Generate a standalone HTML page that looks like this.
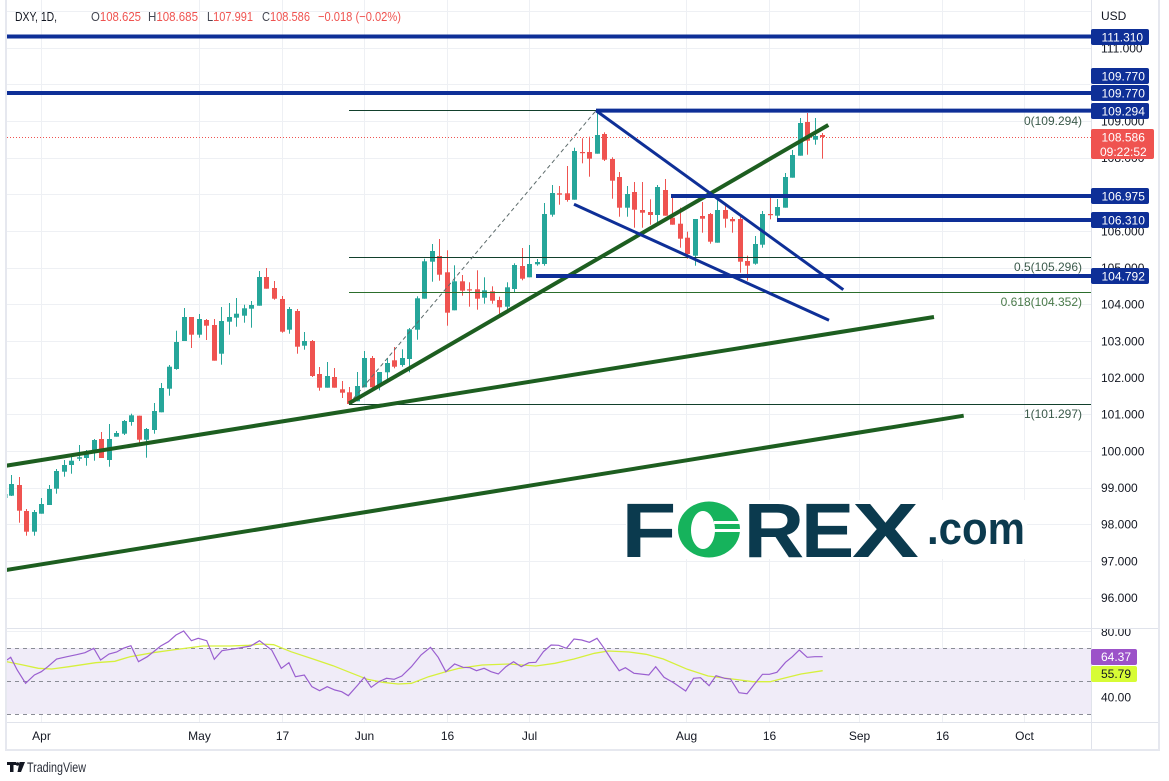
<!DOCTYPE html>
<html><head><meta charset="utf-8">
<style>
html,body{margin:0;padding:0;background:#fff;width:1169px;height:781px;overflow:hidden;}
svg{display:block;}
text{font-family:"Liberation Sans",sans-serif;}
</style></head>
<body>
<svg width="1169" height="781" viewBox="0 0 1169 781" xmlns="http://www.w3.org/2000/svg">
<defs>
<clipPath id="cp"><rect x="7" y="0" width="1084" height="628"/></clipPath>
<clipPath id="cr"><rect x="7" y="629" width="1084" height="93"/></clipPath>
<clipPath id="ca"><rect x="1092" y="629" width="66" height="93"/></clipPath>
</defs>
<rect width="1169" height="781" fill="#fff"/>

<!-- grid price pane -->
<g stroke="#eef0f4" stroke-width="1">
<line x1="7" y1="11.5" x2="1091" y2="11.5"/>
<line x1="7" y1="48.5" x2="1091" y2="48.5"/>
<line x1="7" y1="84.5" x2="1091" y2="84.5"/>
<line x1="7" y1="121.5" x2="1091" y2="121.5"/>
<line x1="7" y1="158.5" x2="1091" y2="158.5"/>
<line x1="7" y1="194.5" x2="1091" y2="194.5"/>
<line x1="7" y1="231.5" x2="1091" y2="231.5"/>
<line x1="7" y1="268.5" x2="1091" y2="268.5"/>
<line x1="7" y1="304.5" x2="1091" y2="304.5"/>
<line x1="7" y1="341.5" x2="1091" y2="341.5"/>
<line x1="7" y1="378.5" x2="1091" y2="378.5"/>
<line x1="7" y1="414.5" x2="1091" y2="414.5"/>
<line x1="7" y1="451.5" x2="1091" y2="451.5"/>
<line x1="7" y1="488.5" x2="1091" y2="488.5"/>
<line x1="7" y1="524.5" x2="1091" y2="524.5"/>
<line x1="7" y1="561.5" x2="1091" y2="561.5"/>
<line x1="7" y1="598.5" x2="1091" y2="598.5"/>
<!-- rsi grid -->
<line x1="7" y1="631.5" x2="1091" y2="631.5"/>
<line x1="7" y1="664.5" x2="1091" y2="664.5"/>
<line x1="7" y1="697.5" x2="1091" y2="697.5"/>
<!-- vertical -->
<line x1="41.5" y1="0" x2="41.5" y2="722"/>
<line x1="199.5" y1="0" x2="199.5" y2="722"/>
<line x1="282.5" y1="0" x2="282.5" y2="722"/>
<line x1="364.5" y1="0" x2="364.5" y2="722"/>
<line x1="447.5" y1="0" x2="447.5" y2="722"/>
<line x1="529.5" y1="0" x2="529.5" y2="722"/>
<line x1="686.5" y1="0" x2="686.5" y2="722"/>
<line x1="769.5" y1="0" x2="769.5" y2="722"/>
<line x1="859.5" y1="0" x2="859.5" y2="722"/>
<line x1="942.5" y1="0" x2="942.5" y2="722"/>
<line x1="1024.5" y1="0" x2="1024.5" y2="722"/>
</g>

<!-- FOREX logo background + logo -->
<rect x="626" y="500" width="401" height="59" fill="#fff"/>
<g fill="#0b3a4e" font-weight="bold">
<text x="621.4" y="557" font-size="77" textLength="55" lengthAdjust="spacingAndGlyphs">F</text>
<text x="743.7" y="557" font-size="77" textLength="60.6" lengthAdjust="spacingAndGlyphs">R</text>
<text x="801.2" y="557" font-size="77" textLength="53" lengthAdjust="spacingAndGlyphs">E</text>
<text x="852" y="557" font-size="77" textLength="66.8" lengthAdjust="spacingAndGlyphs">X</text>
<text x="927" y="544" font-size="45" textLength="98" lengthAdjust="spacingAndGlyphs">.com</text>
</g>
<path d="M709,501.5 a31,28 0 1,0 0.01,0 Z M703,511 a12,19 0 1,1 -0.01,0 Z" fill="#16b35c" fill-rule="evenodd"/>
<rect x="714" y="521" width="28" height="3" fill="#fff"/>
<rect x="714" y="529" width="28" height="3" fill="#fff"/>

<!-- RSI band -->
<g clip-path="url(#cr)">
<rect x="7" y="648" width="1084" height="66" fill="#f0ecf8"/>
<g stroke="#8a8d96" stroke-width="1" stroke-dasharray="4,4">
<line x1="7" y1="648.5" x2="1091" y2="648.5"/>
<line x1="7" y1="681.5" x2="1091" y2="681.5"/>
<line x1="7" y1="714.5" x2="1091" y2="714.5"/>
</g>
<polyline fill="none" stroke="#d6f03c" stroke-width="1.3" points="6.9,661.7 23,665 38.3,668.3 51.7,669 68.9,666.7 95.7,662.7 114.8,661.3 130.1,656.7 153,652.7 172.2,650 202.8,646 229.6,646 248.8,645.3 260.2,644 273.6,644.7 290.9,651.7 313.8,659.3 333,665.7 352.1,673.3 367.4,679.3 382.7,682.3 398,684 411.4,683.3 428.6,676.7 445.8,671.7 459.2,668.3 482.2,665 509,664 535.8,666 554.9,663.3 574,659 594.4,653.3 608.2,651 628.9,652 646.1,654.3 663.3,659 687.4,669.3 708.1,676 732.2,679 752.8,681.7 770.1,681.7 783.8,678.3 801,674 822.7,670.7"/>
<polyline fill="none" stroke="#9a5fd0" stroke-width="1.2" points="6.9,660 10.7,657.3 17.2,670 25.6,683.3 34.4,675 41.3,671.7 47.8,666.7 56.6,659 67,656.7 76.5,654.7 85,652.7 93.8,648.3 100.6,660 109,654 116.7,652 123.2,648.3 130.9,645.7 138.5,661.7 147.3,656.7 160.7,646 168.4,641.7 176,635 183.7,631 191.4,640.7 198.2,638.3 206.7,640.7 214.3,659.3 222,650.7 237.3,648.3 250.7,646 259.5,640.7 271.7,650 281.3,668.3 288.9,662.7 295.4,676.7 304.3,675 311.9,686.7 319.6,690.7 327.2,686.7 334.9,690 341.7,691.7 348.3,695.7 357.8,685 364.3,677.3 371.2,687.3 378.9,681.7 386.5,678.3 394.2,679.3 401.8,676 411.4,666.7 421,655 430.5,647.3 438.2,657.3 445.8,671.7 454.6,664 463.1,667.3 470,667.7 476.5,670.7 484.1,668.3 491,671.7 498.3,674 505.9,666.7 513.6,661.7 521.2,666.7 528.9,662.7 535.8,662.3 543.4,651.7 551.1,645 558.7,645.3 566.4,648.3 574,639 581.7,640 589.4,642.3 597,638.3 603,646.7 611.7,660 619.2,670.7 625.4,667.7 634,673.3 648.8,675 655.7,666.7 664,677.3 673.6,682.7 685.7,691 693.6,678.3 700.5,677.7 709.1,685.7 716,675.7 724.6,678.3 730.5,679 739.1,692.7 747,693.7 754.6,684 762.5,674.3 769.4,674.3 776.9,672.3 785.5,662.3 792.4,656.7 799.3,650 807.2,657.3 814.8,656.7 822.7,656.7"/>
</g>

<g clip-path="url(#cp)">
<!-- current price dotted line -->
<line x1="7" y1="137.5" x2="1091" y2="137.5" stroke="#ef5350" stroke-width="1" stroke-dasharray="1,2"/>

<!-- candles teal -->
<g fill="#26a69a">
<rect x="6" y="494" width="1.5" height="4"/>
<rect x="11" y="475" width="1" height="21"/><rect x="9" y="484" width="5" height="11.7"/>
<rect x="34" y="510" width="1" height="25.7"/><rect x="32" y="512" width="5" height="19.7"/>
<rect x="41" y="498" width="1" height="15.7"/><rect x="39" y="504" width="5" height="9.7"/>
<rect x="49" y="485" width="1" height="20"/><rect x="47" y="489" width="5" height="16"/>
<rect x="56" y="469" width="1" height="24.7"/><rect x="54" y="471" width="5" height="17.7"/>
<rect x="64" y="460" width="1" height="16.7"/><rect x="62" y="465" width="5" height="6.7"/>
<rect x="71" y="455" width="1" height="18.7"/><rect x="69" y="460.7" width="5" height="4.3"/>
<rect x="79" y="445" width="1" height="16"/><rect x="77" y="457.3" width="5" height="1.4"/>
<rect x="86" y="450" width="1" height="15.7"/><rect x="84" y="454" width="5" height="4"/>
<rect x="94" y="439" width="1" height="21.7"/><rect x="92" y="440" width="5" height="11"/>
<rect x="109" y="424" width="1" height="42.7"/><rect x="107" y="439" width="5" height="21"/>
<rect x="116" y="431" width="1" height="5.7"/><rect x="114" y="433" width="5" height="3.7"/>
<rect x="124" y="420" width="1" height="15"/><rect x="122" y="421" width="5" height="12.7"/>
<rect x="131" y="413.7" width="1" height="12"/><rect x="129" y="415.3" width="5" height="6.7"/>
<rect x="146" y="428" width="1" height="29.7"/><rect x="144" y="429" width="5" height="10.7"/>
<rect x="154" y="403" width="1" height="30.7"/><rect x="152" y="411" width="5" height="19"/>
<rect x="161" y="383" width="1" height="29.3"/><rect x="159" y="388" width="5" height="24.3"/>
<rect x="169" y="365" width="1" height="30.7"/><rect x="167" y="366.7" width="5" height="22"/>
<rect x="176" y="330.7" width="1" height="39"/><rect x="174" y="342" width="5" height="27"/>
<rect x="184" y="308" width="1" height="33"/><rect x="182" y="317" width="5" height="24"/>
<rect x="199" y="314" width="1" height="23.7"/><rect x="197" y="319" width="5" height="15.7"/>
<rect x="221" y="307" width="1" height="57.7"/><rect x="219" y="321" width="5" height="32.7"/>
<rect x="229" y="303" width="1" height="31.7"/><rect x="227" y="317" width="5" height="4.7"/>
<rect x="236" y="298" width="1" height="28.7"/><rect x="234" y="313.7" width="5" height="4"/>
<rect x="244" y="304.7" width="1" height="18"/><rect x="242" y="308.3" width="5" height="7.4"/>
<rect x="251" y="301" width="1" height="26.7"/><rect x="249" y="305" width="5" height="3.7"/>
<rect x="259" y="271" width="1" height="34.7"/><rect x="257" y="277" width="5" height="28.7"/>
<rect x="289" y="307" width="1" height="26.7"/><rect x="287" y="309" width="5" height="20.7"/>
<rect x="304" y="332" width="1" height="17.7"/><rect x="302" y="341" width="5" height="4.7"/>
<rect x="327" y="362" width="1" height="25.7"/><rect x="325" y="376" width="5" height="11.7"/>
<rect x="357" y="372" width="1" height="29.3"/><rect x="355" y="386" width="5" height="15.3"/>
<rect x="364" y="351" width="1" height="36.3"/><rect x="362" y="358" width="5" height="29.3"/>
<rect x="379" y="372" width="1" height="18.3"/><rect x="377" y="372" width="5" height="14.3"/>
<rect x="387" y="358" width="1" height="22.3"/><rect x="385" y="363" width="5" height="9.3"/>
<rect x="402" y="349.3" width="1" height="17.4"/><rect x="400" y="358" width="5" height="7"/>
<rect x="409" y="328" width="1" height="44.3"/><rect x="407" y="329.3" width="5" height="29.7"/>
<rect x="417" y="296.3" width="1" height="43.4"/><rect x="415" y="298.3" width="5" height="31.4"/>
<rect x="424" y="258.7" width="1" height="40"/><rect x="422" y="261.3" width="5" height="37.4"/>
<rect x="432" y="244" width="1" height="37.7"/><rect x="430" y="251" width="5" height="10.7"/>
<rect x="454" y="265.3" width="1" height="45"/><rect x="452" y="281.3" width="5" height="29"/>
<rect x="484" y="277.3" width="1" height="26.4"/><rect x="482" y="290.3" width="5" height="7.4"/>
<rect x="507" y="282.3" width="1" height="27.7"/><rect x="505" y="287.3" width="5" height="19.4"/>
<rect x="514" y="263.3" width="1" height="28.7"/><rect x="512" y="265" width="5" height="24"/>
<rect x="529" y="245" width="1" height="32.3"/><rect x="527" y="264" width="5" height="13.3"/>
<rect x="537" y="259" width="1" height="6.7"/><rect x="535" y="262" width="5" height="2.3"/>
<rect x="544" y="203" width="1" height="62.7"/><rect x="542" y="214" width="5" height="50"/>
<rect x="552" y="185" width="1" height="31.7"/><rect x="550" y="193" width="5" height="21.7"/>
<rect x="574" y="147.7" width="1" height="52"/><rect x="572" y="151" width="5" height="48.7"/>
<rect x="597" y="110.3" width="1" height="43.4"/><rect x="595" y="135" width="5" height="18.7"/>
<rect x="627" y="186" width="1" height="30.7"/><rect x="625" y="194" width="5" height="13.7"/>
<rect x="657" y="185" width="1" height="37.7"/><rect x="655" y="187" width="5" height="28"/>
<rect x="695" y="219" width="1" height="46.7"/><rect x="693" y="219" width="5" height="36.7"/>
<rect x="717" y="195" width="1" height="47.7"/><rect x="715" y="210" width="5" height="32.7"/>
<rect x="755" y="236" width="1" height="28.7"/><rect x="753" y="244" width="5" height="19.7"/>
<rect x="762" y="211" width="1" height="36.7"/><rect x="760" y="214" width="5" height="30.7"/>
<rect x="777" y="199" width="1" height="19.7"/><rect x="775" y="207" width="5" height="8.7"/>
<rect x="785" y="173" width="1" height="34.7"/><rect x="783" y="177" width="5" height="30.7"/>
<rect x="792" y="150" width="1" height="27.7"/><rect x="790" y="155" width="5" height="22.7"/>
<rect x="800" y="118" width="1" height="37.7"/><rect x="798" y="123" width="5" height="32.7"/>
<rect x="815" y="118" width="1" height="26.7"/><rect x="813" y="136" width="5" height="3.7"/>
</g>
<!-- candles red -->
<g fill="#ef5350">
<rect x="19" y="477" width="1" height="45.7"/><rect x="17" y="485" width="5" height="25.7"/>
<rect x="26" y="509" width="1" height="26.7"/><rect x="24" y="511" width="5" height="20.7"/>
<rect x="101" y="432" width="1" height="26"/><rect x="99" y="439" width="5" height="19"/>
<rect x="139" y="415.7" width="1" height="27.6"/><rect x="137" y="415.7" width="5" height="24"/>
<rect x="191" y="317" width="1" height="31"/><rect x="189" y="317" width="5" height="17.7"/>
<rect x="206" y="319" width="1" height="21"/><rect x="204" y="320" width="5" height="5.7"/>
<rect x="214" y="319" width="1" height="41.7"/><rect x="212" y="325" width="5" height="35.7"/>
<rect x="266" y="268" width="1" height="20.7"/><rect x="264" y="277" width="5" height="11.7"/>
<rect x="274" y="281" width="1" height="18.7"/><rect x="272" y="288" width="5" height="10.7"/>
<rect x="282" y="296" width="1" height="36.7"/><rect x="280" y="299" width="5" height="32.7"/>
<rect x="297" y="309" width="1" height="44.7"/><rect x="295" y="311" width="5" height="35.7"/>
<rect x="312" y="340" width="1" height="37"/><rect x="310" y="341" width="5" height="35"/>
<rect x="319" y="367" width="1" height="23.7"/><rect x="317" y="374" width="5" height="13.7"/>
<rect x="334" y="368" width="1" height="19.7"/><rect x="332" y="377" width="5" height="10.7"/>
<rect x="342" y="381" width="1" height="17"/><rect x="340" y="389.3" width="5" height="3.4"/>
<rect x="349" y="387" width="1" height="17"/><rect x="347" y="392.3" width="5" height="11.7"/>
<rect x="372" y="356" width="1" height="32.7"/><rect x="370" y="358" width="5" height="29.3"/>
<rect x="394" y="347" width="1" height="21.3"/><rect x="392" y="360.3" width="5" height="6.4"/>
<rect x="439" y="239" width="1" height="41.7"/><rect x="437" y="256" width="5" height="18.7"/>
<rect x="447" y="250.3" width="1" height="75.4"/><rect x="445" y="272.3" width="5" height="40.4"/>
<rect x="462" y="275" width="1" height="20.7"/><rect x="460" y="281.3" width="5" height="9.4"/>
<rect x="469" y="282.3" width="1" height="24.4"/><rect x="467" y="289.3" width="5" height="1.2"/>
<rect x="477" y="270.3" width="1" height="39.4"/><rect x="475" y="289.3" width="5" height="9.4"/>
<rect x="492" y="286.3" width="1" height="17.4"/><rect x="490" y="291.3" width="5" height="9.4"/>
<rect x="499" y="296.7" width="1" height="17.6"/><rect x="497" y="300" width="5" height="7.3"/>
<rect x="522" y="248" width="1" height="32.3"/><rect x="520" y="266" width="5" height="12.7"/>
<rect x="559" y="186" width="1" height="18.7"/><rect x="557" y="193.3" width="5" height="1.4"/>
<rect x="567" y="166" width="1" height="35.7"/><rect x="565" y="193.3" width="5" height="6.7"/>
<rect x="582" y="138.3" width="1" height="25"/><rect x="580" y="152" width="5" height="1.2"/>
<rect x="589" y="136.7" width="1" height="40"/><rect x="587" y="152" width="5" height="6.7"/>
<rect x="604" y="132.3" width="1" height="28.7"/><rect x="602" y="134" width="5" height="25.7"/>
<rect x="612" y="157.3" width="1" height="41.4"/><rect x="610" y="159" width="5" height="21.7"/>
<rect x="619" y="172" width="1" height="44.7"/><rect x="617" y="177" width="5" height="30.7"/>
<rect x="634" y="182" width="1" height="45.7"/><rect x="632" y="192" width="5" height="17.7"/>
<rect x="642" y="182" width="1" height="45.7"/><rect x="640" y="210" width="5" height="2.7"/>
<rect x="650" y="199.3" width="1" height="25.4"/><rect x="648" y="212" width="5" height="3"/>
<rect x="665" y="179" width="1" height="36.7"/><rect x="663" y="190" width="5" height="25.7"/>
<rect x="672" y="197" width="1" height="27.7"/><rect x="670" y="217.7" width="5" height="7"/>
<rect x="680" y="207.7" width="1" height="40"/><rect x="678" y="223.7" width="5" height="15"/>
<rect x="687" y="231.7" width="1" height="27"/><rect x="685" y="237.7" width="5" height="16.3"/>
<rect x="702" y="202" width="1" height="30.7"/><rect x="700" y="216" width="5" height="2.7"/>
<rect x="710" y="213" width="1" height="30.7"/><rect x="708" y="214" width="5" height="27.7"/>
<rect x="725" y="205" width="1" height="22.7"/><rect x="723" y="210" width="5" height="8.7"/>
<rect x="732" y="217" width="1" height="15.7"/><rect x="730" y="219" width="5" height="2.3"/>
<rect x="740" y="217" width="1" height="55.7"/><rect x="738" y="219" width="5" height="42.7"/>
<rect x="747" y="255.7" width="1" height="25"/><rect x="745" y="261" width="5" height="4.7"/>
<rect x="770" y="197" width="1" height="22.3"/><rect x="768" y="214" width="5" height="1.2"/>
<rect x="807" y="113" width="1" height="41.7"/><rect x="805" y="122" width="5" height="18.7"/>
<rect x="822" y="133" width="1" height="25.7"/><rect x="820" y="135" width="5" height="2"/>
</g>

<!-- fib lines -->
<line x1="349" y1="110.5" x2="1091" y2="110.5" stroke="#12402c" stroke-width="1"/>
<line x1="349" y1="257.5" x2="1091" y2="257.5" stroke="#12402c" stroke-width="1"/>
<line x1="349" y1="292.5" x2="1091" y2="292.5" stroke="#2c6e2c" stroke-width="1"/>
<line x1="349" y1="404.5" x2="1091" y2="404.5" stroke="#12402c" stroke-width="1"/>
<line x1="349" y1="403.8" x2="596" y2="110.6" stroke="#5d6b6b" stroke-width="1" stroke-dasharray="4,3"/>
<g font-size="12" text-anchor="end">
<text x="1082" y="125" fill="#3b5a4b">0(109.294)</text>
<text x="1082" y="271" fill="#3b5a4b">0.5(105.296)</text>
<text x="1082" y="306" fill="#4a7a4a">0.618(104.352)</text>
<text x="1082" y="418" fill="#3b5a4b">1(101.297)</text>
</g>

<!-- green trend lines -->
<g stroke="#1d5e20" stroke-width="4" stroke-linecap="butt">
<line x1="6" y1="465.7" x2="934" y2="317"/>
<line x1="6" y1="570" x2="963.7" y2="415.7"/>
<line x1="349" y1="403.3" x2="828.3" y2="125"/>
</g>

<!-- blue lines -->
<g stroke="#0e2f97">
<line x1="6" y1="36.5" x2="1091" y2="36.5" stroke-width="4"/>
<line x1="6" y1="93" x2="1091" y2="93" stroke-width="4"/>
<line x1="596" y1="110.6" x2="1091" y2="110.6" stroke-width="4"/>
<line x1="671" y1="196" x2="1091" y2="196" stroke-width="4"/>
<line x1="777" y1="220" x2="1091" y2="220" stroke-width="4"/>
<line x1="536" y1="276" x2="1091" y2="276" stroke-width="4"/>
<line x1="596" y1="110.6" x2="843.3" y2="289.7" stroke-width="3"/>
<line x1="574" y1="204.3" x2="829" y2="320.3" stroke-width="3"/>
</g>
</g>

<!-- legend -->
<g font-size="13">
<text x="15" y="21" fill="#131722" textLength="42" lengthAdjust="spacingAndGlyphs">DXY, 1D,</text>
<text x="91" y="21" textLength="50" lengthAdjust="spacingAndGlyphs"><tspan fill="#434651">O</tspan><tspan fill="#ef5350">108.625</tspan></text>
<text x="148" y="21" textLength="50" lengthAdjust="spacingAndGlyphs"><tspan fill="#434651">H</tspan><tspan fill="#ef5350">108.685</tspan></text>
<text x="207" y="21" textLength="46" lengthAdjust="spacingAndGlyphs"><tspan fill="#434651">L</tspan><tspan fill="#ef5350">107.991</tspan></text>
<text x="262" y="21" textLength="48" lengthAdjust="spacingAndGlyphs"><tspan fill="#434651">C</tspan><tspan fill="#ef5350">108.586</tspan></text>
<text x="318" y="21" fill="#ef5350" textLength="83" lengthAdjust="spacingAndGlyphs">−0.018 (−0.02%)</text>
</g>

<!-- frame / separators -->
<rect x="5" y="0" width="2" height="751" fill="#e6e8ef"/>
<rect x="1158" y="0" width="2" height="751" fill="#e6e8ef"/>
<rect x="5" y="749" width="1155" height="2" fill="#e6e8ef"/>
<rect x="1091" y="0" width="1" height="749" fill="#e0e3eb"/>
<rect x="7" y="628" width="1151" height="1" fill="#e0e3eb"/>
<rect x="7" y="722" width="1151" height="1" fill="#e0e3eb"/>

<!-- price axis labels -->
<g font-size="12" fill="#131722">
<text x="1101" y="20">USD</text>
<text x="1101" y="52.5">111.000</text>
<text x="1101" y="125.5">109.000</text>
<text x="1101" y="162">108.000</text>
<text x="1101" y="235.5">106.000</text>
<text x="1101" y="272">105.000</text>
<text x="1101" y="308.5">104.000</text>
<text x="1101" y="345.5">103.000</text>
<text x="1101" y="382">102.000</text>
<text x="1101" y="418.5">101.000</text>
<text x="1101" y="455.5">100.000</text>
<text x="1101" y="492">99.000</text>
<text x="1101" y="528.5">98.000</text>
<text x="1101" y="565.5">97.000</text>
<text x="1101" y="602">96.000</text>
</g>
<g fill="#0e2f97">
<rect x="1091" y="29" width="58" height="16" rx="2"/>
<rect x="1091" y="68" width="58" height="16" rx="2"/>
<rect x="1091" y="85" width="58" height="16" rx="2"/>
<rect x="1091" y="103" width="58" height="16" rx="2"/>
<rect x="1091" y="188" width="58" height="16" rx="2"/>
<rect x="1091" y="212" width="58" height="16" rx="2"/>
<rect x="1091" y="268" width="58" height="16" rx="2"/>
</g>
<rect x="1091" y="129" width="63" height="30" rx="2" fill="#ef5350"/>
<g font-size="12" fill="#fff">
<text x="1101.5" y="41.5">111.310</text>
<text x="1101.5" y="80.5">109.770</text>
<text x="1101.5" y="97.5">109.770</text>
<text x="1101.5" y="115.5">109.294</text>
<text x="1101.5" y="200.5">106.975</text>
<text x="1101.5" y="224.5">106.310</text>
<text x="1101.5" y="280.5">104.792</text>
<text x="1101.5" y="141.5">108.586</text>
<text x="1100" y="156">09:22:52</text>
</g>

<!-- RSI axis -->
<g font-size="12" fill="#131722">
<g clip-path="url(#ca)"><text x="1101" y="636">80.00</text></g>
<text x="1101" y="701.5">40.00</text>
</g>
<rect x="1091" y="649" width="46" height="16" rx="2" fill="#9c52c9"/>
<rect x="1091" y="666" width="46" height="16" rx="2" fill="#d7fc35"/>
<text x="1101" y="661" font-size="12" fill="#fff">64.37</text>
<text x="1101" y="678" font-size="12" fill="#131722">55.79</text>

<!-- time axis -->
<g font-size="12" fill="#131722" text-anchor="middle">
<text x="41.5" y="740">Apr</text>
<text x="199.5" y="740">May</text>
<text x="282.5" y="740">17</text>
<text x="364.5" y="740">Jun</text>
<text x="447.5" y="740">16</text>
<text x="529.5" y="740">Jul</text>
<text x="686.5" y="740">Aug</text>
<text x="769.5" y="740">16</text>
<text x="859.5" y="740">Sep</text>
<text x="942.5" y="740">16</text>
<text x="1024.5" y="740">Oct</text>
</g>

<!-- TradingView logo -->
<g fill="#131722">
<rect x="7" y="762" width="9" height="3"/>
<rect x="10" y="762" width="3.5" height="10"/>
<circle cx="17.5" cy="764" r="1.7"/>
<polygon points="19.5,762 25,762 21,772 17.5,772"/>
</g>
<text x="27" y="772" font-size="14" fill="#2a2e39" textLength="59" lengthAdjust="spacingAndGlyphs">TradingView</text>
</svg>
</body></html>
